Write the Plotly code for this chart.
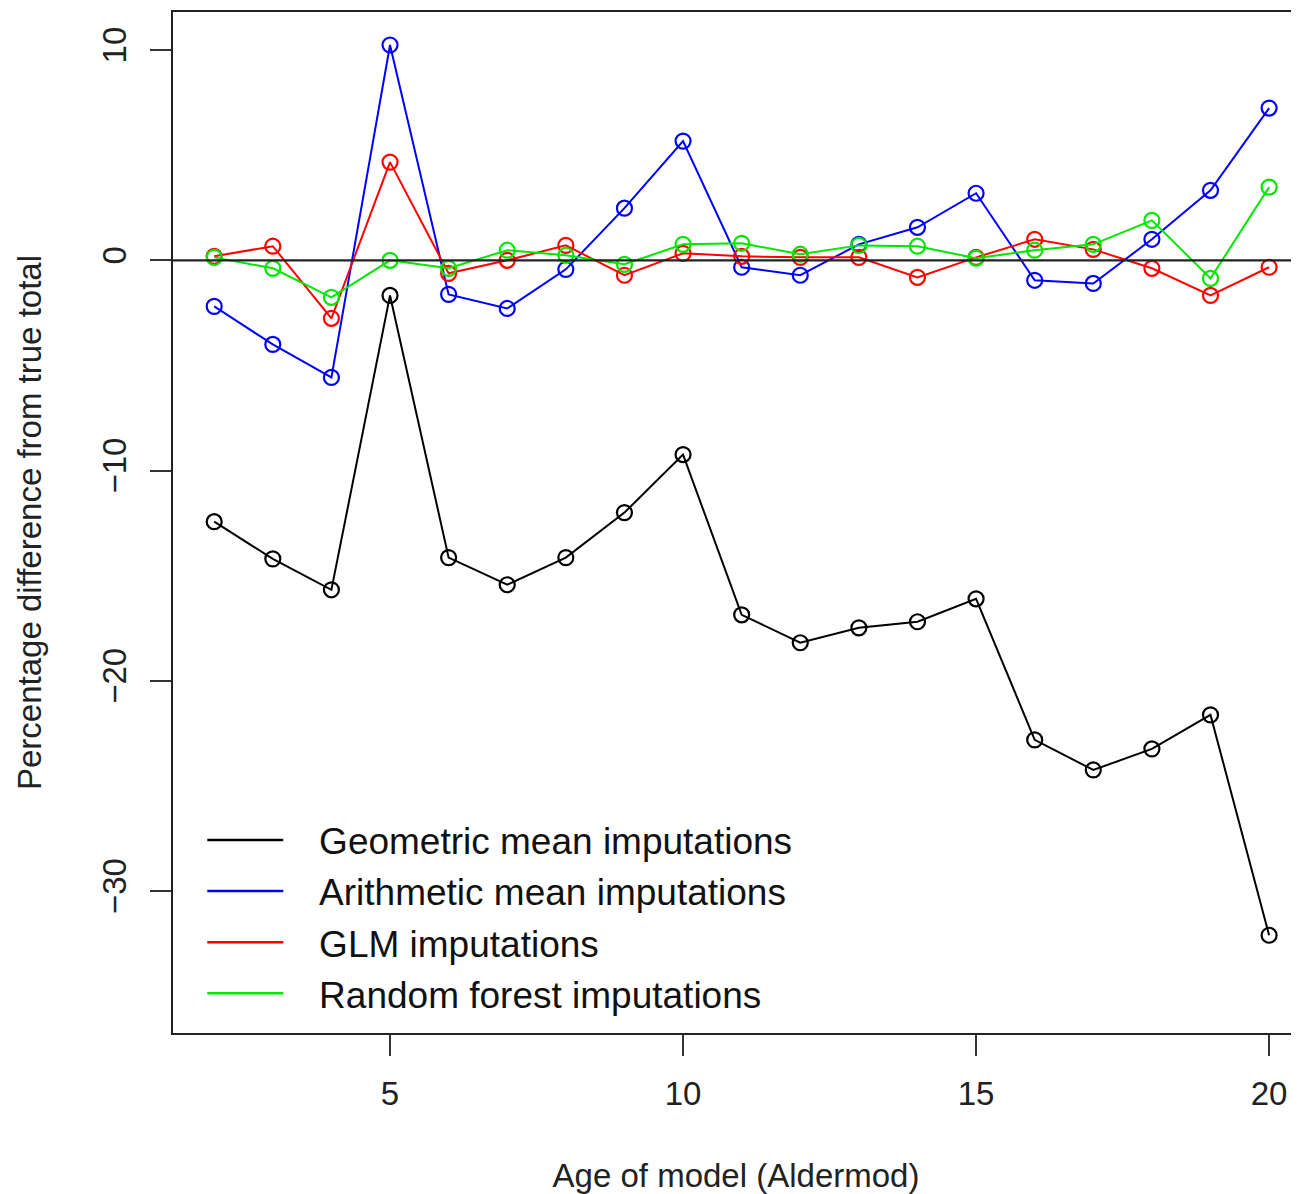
import plotly.graph_objects as go

age = list(range(2, 21))
geometric = [-12.43, -14.2, -15.67, -1.67, -14.14, -15.43, -14.14, -12.0, -9.24, -16.86,
             -18.19, -17.48, -17.19, -16.1, -22.81, -24.24, -23.24, -21.62, -32.1]
arithmetic = [-2.19, -4.0, -5.57, 10.24, -1.62, -2.29, -0.43, 2.48, 5.67, -0.33,
              -0.71, 0.76, 1.57, 3.19, -0.95, -1.1, 1.0, 3.33, 7.24]
glm = [0.19, 0.67, -2.76, 4.67, -0.62, 0.0, 0.71, -0.71, 0.33, 0.19,
       0.14, 0.14, -0.81, 0.14, 1.0, 0.52, -0.38, -1.67, -0.33]
forest = [0.14, -0.38, -1.76, 0.0, -0.38, 0.48, 0.24, -0.19, 0.76, 0.81,
          0.29, 0.71, 0.67, 0.1, 0.48, 0.76, 1.9, -0.86, 3.48]

names = ["Geometric mean imputations", "Arithmetic mean imputations",
         "GLM imputations", "Random forest imputations"]
colors = ["#000000", "#0000FF", "#FF0000", "#00E600"]
series = [geometric, arithmetic, glm, forest]

fig = go.Figure()
fig.add_hline(y=0, line=dict(color="#222222", width=2.2))
for vals, col in zip(series, colors):
    fig.add_trace(go.Scatter(
        x=age, y=vals, mode="lines+markers", showlegend=False,
        line=dict(color=col, width=2),
        marker=dict(symbol="circle-open", size=15, color=col, line=dict(width=2.2, color=col)),
    ))
gap = "\u00a0\u00a0\u00a0"
for name, col in zip(names, colors):
    fig.add_trace(go.Scatter(x=[None], y=[None], mode="lines", name=gap + name,
                             line=dict(color=col, width=2.5)))

font = "Liberation Sans, Arial, sans-serif"
fig.update_layout(
    width=1291, height=1186,
    margin=dict(l=165, r=0, t=4, b=161),
    plot_bgcolor="white", paper_bgcolor="white",
    font=dict(family=font, color="#222222", size=33),
    legend=dict(x=0.026, y=0.219, xanchor="left", yanchor="top",
                font=dict(size=37, color="#111111"), bgcolor="rgba(0,0,0,0)",
                itemwidth=76, tracegroupgap=0),
    xaxis=dict(range=[1.297, 20.51], tickvals=[5, 10, 15, 20], ticks="outside", ticklen=21,
               tickwidth=2, tickcolor="#333333", showline=True, linecolor="#222222", linewidth=2,
               mirror=True, showgrid=False, zeroline=False, ticklabelstandoff=9,
               title=dict(text="Age of model (Aldermod)", font=dict(size=33), standoff=58),
               tickfont=dict(size=33)),
    yaxis=dict(range=[-36.75, 11.81], tickvals=[-30, -20, -10, 0, 10], ticks="outside", ticklen=21,
               tickwidth=2, tickcolor="#333333", showline=True, linecolor="#222222", linewidth=2,
               mirror=False, showgrid=False, zeroline=False, tickangle=-90, ticklabelstandoff=11,
               title=dict(text="Percentage difference from true total", font=dict(size=33), standoff=44),
               tickfont=dict(size=33)),
)
fig.write_html("out.html")
